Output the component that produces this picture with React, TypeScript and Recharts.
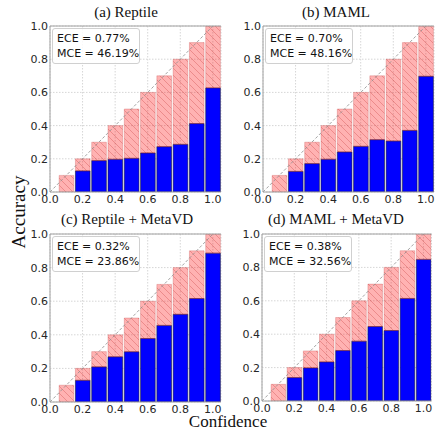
import { ComposedChart, Bar, XAxis, YAxis, CartesianGrid, ReferenceLine } from "recharts";

// bin centres (confidence) and per-bin accuracy
const binCenters = [0.1, 0.2, 0.3, 0.4, 0.5, 0.6, 0.7, 0.8, 0.9, 1.0];
const reptileAcc = [0, 0.127, 0.189, 0.197, 0.203, 0.235, 0.273, 0.287, 0.412, 0.627];
const mamlAcc = [0, 0.124, 0.171, 0.197, 0.241, 0.275, 0.315, 0.307, 0.371, 0.697];
const reptileVdAcc = [0, 0.129, 0.209, 0.269, 0.299, 0.378, 0.456, 0.522, 0.616, 0.886];
const mamlVdAcc = [0, 0.14, 0.198, 0.234, 0.302, 0.358, 0.446, 0.422, 0.614, 0.848];
const axisTicks = [0, 0.2, 0.4, 0.6, 0.8, 1.0];

const tickStyle = { fontSize: 11, fill: "#262626", fontFamily: "DejaVu Sans" };

function toRows(acc: number[]) {
  return binCenters.map((c, i) => ({ conf: c, acc: acc[i], gap: +(c - acc[i]).toFixed(4) }));
}

interface PanelProps {
  id: string;
  title: string;
  acc: number[];
  ece: string;
  mce: string;
  left: number;
  top: number;
  width: number;
  height: number;
  margin: { top: number; right: number; left: number; bottom: number };
  titleX: number;
  titleY: number;
}

function ReliabilityPanel({ id, title, acc, ece, mce, left, top, width, height, margin, titleX, titleY }: PanelProps) {
  const yAxisW = 30;
  const plotW = width - margin.left - margin.right - yAxisW;
  const barSize = (plotW * 0.1) / 1.05;
  const plotLeft = margin.left + yAxisW;
  return (
    <div style={{ position: "absolute", left, top, width, height }}>
      <ComposedChart width={width} height={height} data={toRows(acc)} margin={margin}>
        <defs>
          <pattern id={`hatch-${id}`} patternUnits="userSpaceOnUse" width={7} height={7}>
            <rect width={7} height={7} fill="rgba(255,0,0,0.3)" />
            <path d="M0,0 L7,7 M-1,6 L1,8 M6,-1 L8,1" stroke="rgba(170,0,0,0.28)" strokeWidth={0.8} />
          </pattern>
        </defs>
        <CartesianGrid stroke="#d6d6d6" strokeDasharray="1.5 1.5" />
        <XAxis
          dataKey="conf"
          type="number"
          domain={[0, 1.05]}
          ticks={axisTicks}
          allowDataOverflow
          tickFormatter={(v: number) => v.toFixed(1)}
          height={20}
          tickLine={false}
          tickSize={0}
          tickMargin={3}
          axisLine={{ stroke: "#a0a0a0" }}
          tick={tickStyle}
          interval={0}
        />
        <YAxis
          type="number"
          domain={[0, 1]}
          ticks={axisTicks}
          allowDataOverflow
          tickFormatter={(v: number) => v.toFixed(1)}
          width={yAxisW}
          tickLine={false}
          tickSize={0}
          tickMargin={2}
          axisLine={{ stroke: "#a0a0a0" }}
          tick={tickStyle}
          interval={0}
        />
        <Bar dataKey="acc" stackId="s" fill="#0000ff" stroke="#1a1a3a" strokeWidth={0.6} barSize={barSize} isAnimationActive={false} />
        <Bar
          dataKey="gap"
          stackId="s"
          fill={`url(#hatch-${id})`}
          stroke="rgba(190,60,60,0.45)"
          strokeWidth={0.6}
          barSize={barSize}
          isAnimationActive={false}
        />
        <ReferenceLine segment={[{ x: 0, y: 0 }, { x: 1, y: 1 }]} stroke="#8c8c8c" strokeDasharray="3 2" strokeWidth={0.8} />
        <ReferenceLine y={1} stroke="#a0a0a0" />
      </ComposedChart>
      <div
        style={{
          position: "absolute",
          left: plotLeft + 2,
          top: margin.top + 1.5,
          width: 88,
          height: 36,
          boxSizing: "border-box",
          border: "1px solid #d0d0d0",
          borderRadius: 3,
          background: "rgba(255,255,255,0.85)",
          fontFamily: "DejaVu Sans",
          fontSize: 11,
          color: "#111",
          padding: "2px 0 0 4px",
          lineHeight: "15.7px",
          whiteSpace: "nowrap",
        }}
      >
        <div>ECE = {ece}</div>
        <div>MCE = {mce}</div>
      </div>
      <div
        style={{
          position: "absolute",
          left: titleX - left,
          top: titleY - top,
          transform: "translate(-50%, -50%)",
          fontFamily: "Liberation Serif",
          fontSize: 15,
          lineHeight: "17px",
          color: "#111",
          whiteSpace: "nowrap",
        }}
      >
        {title}
      </div>
    </div>
  );
}

export default function App() {
  return (
    <div style={{ position: "absolute", left: 0, top: 0, width: 435, height: 429, background: "#fff", overflow: "hidden" }}>
      <ReliabilityPanel
        id="a"
        title="(a) Reptile"
        acc={reptileAcc}
        ece="0.77%"
        mce="46.19%"
        left={0}
        top={0}
        width={225}
        height={215}
        margin={{ top: 26, right: 4, left: 20, bottom: 3 }}
        titleX={126}
        titleY={12}
      />
      <ReliabilityPanel
        id="b"
        title="(b) MAML"
        acc={mamlAcc}
        ece="0.70%"
        mce="48.16%"
        left={215}
        top={0}
        width={220}
        height={215}
        margin={{ top: 26, right: 1, left: 18, bottom: 3 }}
        titleX={336}
        titleY={12}
      />
      <ReliabilityPanel
        id="c"
        title="(c) Reptile + MetaVD"
        acc={reptileVdAcc}
        ece="0.32%"
        mce="23.86%"
        left={0}
        top={208}
        width={225}
        height={217}
        margin={{ top: 26, right: 4, left: 20, bottom: 3 }}
        titleX={127}
        titleY={219}
      />
      <ReliabilityPanel
        id="d"
        title="(d) MAML + MetaVD"
        acc={mamlVdAcc}
        ece="0.38%"
        mce="32.56%"
        left={215}
        top={208}
        width={220}
        height={216}
        margin={{ top: 26, right: 3.5, left: 17, bottom: 3 }}
        titleX={336}
        titleY={219}
      />
      <div
        style={{
          position: "absolute",
          left: 19,
          top: 212,
          transform: "translate(-50%, -50%) rotate(-90deg)",
          fontFamily: "Liberation Serif",
          fontSize: 19,
          lineHeight: "20px",
          color: "#111",
          whiteSpace: "nowrap",
        }}
      >
        Accuracy
      </div>
      <div
        style={{
          position: "absolute",
          left: 228,
          top: 420.5,
          transform: "translate(-50%, -50%)",
          fontFamily: "Liberation Serif",
          fontSize: 17,
          lineHeight: "17px",
          color: "#111",
          whiteSpace: "nowrap",
        }}
      >
        Confidence
      </div>
    </div>
  );
}
